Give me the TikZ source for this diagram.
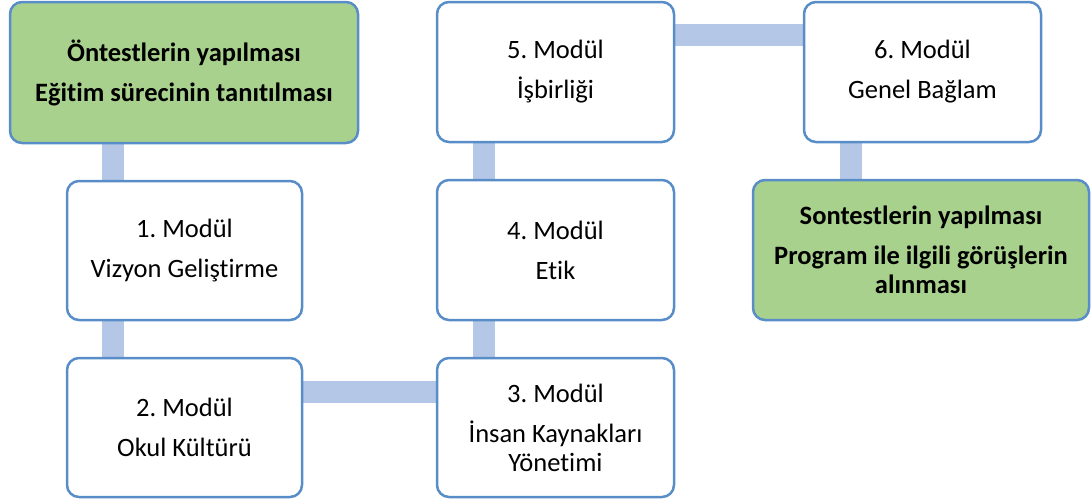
\documentclass[tikz,border=0pt]{standalone}
\usepackage{fontspec}
\setmainfont{Carlito}[Ligatures={NoCommon}]
\usetikzlibrary{backgrounds,calc}
\definecolor{bordc}{RGB}{88,141,200}
\definecolor{barc}{HTML}{B4C7E7}
\definecolor{greenc}{HTML}{A9D18E}
\frenchspacing
\tikzset{
  box/.style={rectangle, draw=bordc, line width=2.5pt, rounded corners=12pt, fill=white,
    align=center, inner sep=0pt, font=\fontsize{26.5}{29}\selectfont, text=black},
  gbox/.style={box, fill=greenc, font=\fontsize{26.5}{29}\selectfont\bfseries},
  bar/.style={draw=barc, line width=22pt}
}
\begin{document}
\begin{tikzpicture}[x=1pt,y=-1pt]
\useasboundingbox (0,0) rectangle (1091,501);
\node[gbox, minimum width=348pt, minimum height=141pt] (g1) at (184,72.5)
  {Öntestlerin yapılması\\[11pt]Eğitim sürecinin tanıtılması};
\node[box, minimum width=235pt, minimum height=139pt] (b1) at (184.5,250.5)
  {1. Modül\\[11pt]Vizyon Geliştirme};
\node[box, minimum width=235pt, minimum height=139pt] (b2) at (184.5,427.5)
  {2. Modül\\[11pt]Okul Kültürü};
\node[box, minimum width=237pt, minimum height=139pt] (b3) at (555.5,427.5)
  {3. Modül\\[11pt]İnsan Kaynakları\\Yönetimi};
\node[box, minimum width=237pt, minimum height=140pt] (b4) at (555.5,250)
  {4. Modül\\[11pt]Etik};
\node[box, minimum width=237pt, minimum height=140pt] (b5) at (555.5,72)
  {5. Modül\\[11pt]İşbirliği};
\node[box, minimum width=237pt, minimum height=140pt] (b6) at (922.5,72)
  {6. Modül\\[11pt]Genel Bağlam};
\node[gbox, minimum width=336pt, minimum height=140pt] (g2) at (921,250)
  {Sontestlerin yapılması\\[11pt]Program ile ilgili görüşlerin\\alınması};
\begin{scope}[on background layer]
  \draw[bar] ([xshift=47pt]b1.north west) -- ([xshift=47pt]b1.north west |- g1.south);
  \draw[bar] ([xshift=47pt]b2.north west) -- ([xshift=47pt]b2.north west |- b1.south);
  \draw[bar] ([yshift=-35pt]b2.north east) -- ([yshift=-35pt]b2.north east -| b3.west);
  \draw[bar] ([xshift=48pt]b3.north west) -- ([xshift=48pt]b3.north west |- b4.south);
  \draw[bar] ([xshift=48pt]b4.north west) -- ([xshift=48pt]b4.north west |- b5.south);
  \draw[bar] ([yshift=-34pt]b5.north east) -- ([yshift=-34pt]b5.north east -| b6.west);
  \draw[bar] ([xshift=48pt]b6.north west |- g2.north) -- ([xshift=48pt]b6.north west |- b6.south);
\end{scope}
\end{tikzpicture}
\end{document}
